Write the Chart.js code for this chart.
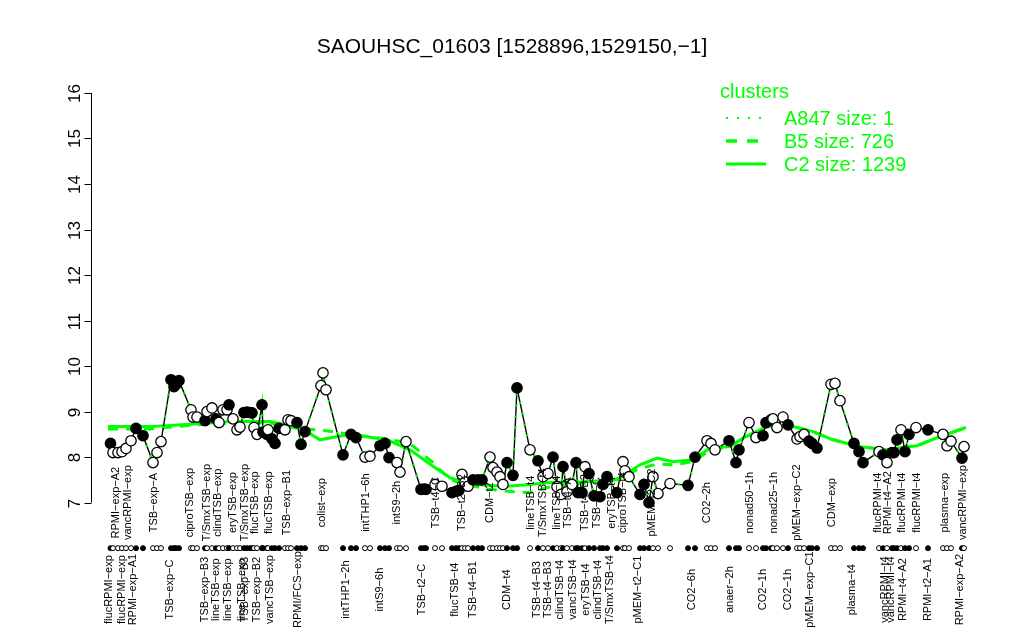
<!DOCTYPE html>
<html>
<head>
<meta charset="utf-8">
<script src="https://cdn.jsdelivr.net/npm/chart.js"></script>
<style>
  body { margin: 0; background: #fff; }
  #chart { display: block; }
</style>
</head>
<body>
<canvas id="chart" width="1024" height="640"></canvas>
<script>
// posiciones de las muestras (eje x) y expresion
const xPos = [2.1,2.6,3.6,4.4,5.2,6.2,7.2,8.6,10.6,11.4,
  12.2,14.2,14.8,15.2,15.8,18.2,18.6,19.4,21,21.4,
  22.4,23.2,23.8,24.6,25.4,25.8,26.6,27.4,28,28.8,
  29.4,30,30.4,30.8,31.4,32.4,32.6,33.4,33.6,34.4,
  35,35.8,37,37.6,38.2,39.4,40.2,41,44.2,44.6,
  45.2,48.6,50.2,51.2,53,54,56,57,57.8,59.4,
  60,61.2,64.2,64.8,65.2,67,68.4,70.4,71.2,71.8,
  72.4,73,73.6,74.6,75.6,76.4,78,78.6,79.4,80,
  80.6,81.4,82.6,83.4,86,87.6,88.6,89.6,90.6,91.4,
  92.2,92.6,93.4,94.4,95.2,95.6,96.4,97,97.8,98.8,
  100,100.6,101.4,103.4,104.6,105,105.8,108,108.8,109.8,
  110.6,111.6,114,117.6,119,121.4,122.2,123,125.8,127.2,
  127.8,129.8,131.2,132.6,133.2,134.2,134.6,135.4,136.6,137.6,
  139.4,140,140.8,141.8,142.4,143.4,146.2,147,148,150.8,
  151.8,152.6,155.8,156.6,157.4,158.4,158.8,159.4,160.2,161,
  161.8,163.2,165.6,168.6,169.4,170.2,172.4,172.8];

const expr = [8.30,8.10,8.10,8.12,8.19,8.36,8.63,8.47,7.88,8.10,
  8.34,9.70,9.55,9.60,9.68,9.04,8.88,8.88,8.80,9.00,
  9.08,8.84,8.76,9.04,9.04,9.15,8.84,8.60,8.66,8.98,
  8.99,8.98,8.97,8.65,8.50,9.15,8.55,8.50,8.60,8.40,
  8.30,8.63,8.60,8.82,8.80,8.76,8.28,8.56,9.57,9.85,
  9.48,8.05,8.50,8.43,8.00,8.02,8.25,8.30,7.99,7.88,
  7.67,8.34,7.29,7.30,7.29,7.40,7.36,7.22,7.25,7.27,
  7.62,7.45,7.36,7.50,7.50,7.50,8.00,7.77,7.67,7.57,
  7.40,7.88,7.60,9.52,8.16,7.92,7.57,7.64,8.00,7.35,
  7.18,7.79,7.24,7.40,7.88,7.22,7.22,7.79,7.64,7.15,
  7.13,7.40,7.57,7.22,7.90,7.70,7.57,7.18,7.40,7.00,
  7.57,7.20,7.42,7.38,8.00,8.36,8.30,8.16,8.36,7.88,
  8.16,8.76,8.43,8.47,8.76,8.82,8.84,8.65,8.88,8.71,
  8.40,8.45,8.50,8.35,8.30,8.20,9.60,9.62,9.24,8.30,
  8.12,7.88,8.12,8.05,7.88,8.10,8.10,8.38,8.60,8.12,
  8.50,8.65,8.60,8.50,8.25,8.35,7.98,8.23];

// 1 = punto relleno, 0 = punto abierto
const filled = [1,0,0,0,0,0,1,1,0,0,
  0,1,1,1,1,0,0,0,1,0,
  0,1,0,0,0,1,0,0,0,1,
  1,1,1,0,0,1,1,1,0,1,
  1,1,0,0,0,1,1,1,0,0,
  0,1,1,1,0,0,1,1,1,0,
  0,0,1,1,1,0,0,1,1,1,
  0,0,0,1,1,1,0,0,0,0,
  0,1,1,1,0,1,0,0,1,0,
  0,1,0,0,1,1,1,0,1,1,
  1,1,1,1,0,0,0,1,1,1,
  0,0,0,1,1,0,0,0,1,1,
  1,0,0,1,1,1,0,0,0,1,
  0,0,0,1,1,1,0,0,0,1,
  1,1,0,1,0,1,1,1,0,1,
  1,0,1,0,0,0,1,0];

// medias de los clusters
const clusterX = [1.6,10,18,26,34,40,44,50,57.4,62,66.6,70,73.4,77.4,81.4,86,90,96.6,103.4,108,
  111.4,114.6,118.6,122,126,128.6,133.4,138.6,142.6,146.6,152,157.4,161.4,163.4,168,173.2];
const c2Vals = [8.67,8.67,8.72,8.78,8.78,8.65,8.38,8.5,8.38,8.16,7.8,7.55,7.42,7.38,7.36,7.4,7.44,7.46,7.5,7.83,
  7.98,7.9,7.94,8.2,8.23,8.42,8.67,8.67,8.56,8.38,8.23,8.16,8.23,8.25,8.45,8.65];
const b5Vals = [8.62,8.62,8.7,8.75,8.75,8.62,8.6,8.5,8.4,8.3,7.88,7.5,7.4,7.3,7.25,7.22,7.35,7.42,7.52,7.75,
  7.85,7.83,7.9,8.15,8.23,8.42,8.67,8.67,8.56,8.38,8.23,8.16,8.23,8.25,8.45,8.65];

// etiquetas dentro del grafico
const innerLabelX = [3.2,5.6,10.8,18,21.4,23.6,26.6,29,31,33.8,37.4,44.4,53.2,59.4,67.2,72.4,78,
  86.2,88.6,91.4,93.6,97,99.4,102.4,104.6,110.4,121.4,130,134.8,139.4,146.4,155.6,157.6,160.4,163.4,169,172.6];
const innerLabels = ['RPMI-exp-A2','vancRPMI-exp','TSB-exp-A','ciproTSB-exp','T/SmxTSB-exp','clindTSB-exp',
  'eryTSB-exp','T/SmxTSB-exp','flucTSB-exp','flucTSB-exp','TSB-exp-B1','colist-exp','intTHP1-6h','intS9-2h',
  'TSB-t4-C','TSB-t2-B2','CDM-t2','lineTSB-t4','T/SmxTSB-t4','lineTSB-t4','TSB-t4-A','TSB-t4-B2','TSB-t4-C',
  'eryTSB-t4','ciproTSB-t4','pMEM-t2-C2','CO2-2h','nonad50-1h','nonad25-1h','pMEM-exp-C2','CDM-exp',
  'flucRPMI-t4','RPMI-t4-A2','flucRPMI-t4','flucRPMI-t4','plasma-exp','vancRPMI-exp'];

// etiquetas del eje inferior
const axisLabelX = [1.8,4.4,6.6,14,21,23.2,25.6,28.4,29,31.4,34,39.6,49.2,56,64.4,71,74.6,81.4,
  87.4,89.6,92,94.6,97.2,99.6,102,107.6,118.4,126,132.6,137.6,142,150.4,157,158.2,160.6,165.6,172];
const axisLabels = ['flucRPMI-exp','flucRPMI-exp','RPMI-exp-A1','TSB-exp-C','TSB-exp-B3','lineTSB-exp',
  'lineTSB-exp','lineTSB-exp','TSB-exp-B3','TSB-exp-B2','vancTSB-exp','RPMI/FCS-exp','intTHP1-2h','intS9-6h',
  'TSB-t2-C','flucTSB-t4','TSB-t4-B1','CDM-t4','TSB-t4-B3','TSB-t4-B3','clindTSB-t4','vancTSB-t4','eryTSB-t4',
  'clindTSB-t4','T/SmxTSB-t4','pMEM-t2-C1','CO2-6h','anaer-2h','CO2-1h','CO2-1h','pMEM-exp-C1','plasma-t4',
  'vancRPMI-t4','vancRPMI-t4','RPMI-t4-A2','RPMI-t2-A1','RPMI-exp-A2'];

const yTicks = [7, 8, 9, 10, 11, 12, 13, 14, 15, 16];
const legendItems = ['A847 size: 1', 'B5 size: 726', 'C2 size: 1239'];
const titleText = 'SAOUHSC_01603 [1528896,1529150,-1]';

const GREEN = '#00ff00';
const FONT = '"Liberation Sans", Arial, sans-serif';
const rowValue = 6.0;       // fila de puntos bajo el grafico
const innerLabelValue = 7.0; // centro de las etiquetas internas
const axisLabelValue = 5.09; // centro de las etiquetas del eje

const minus = s => s.replace(/-/g, '\u2212');

const pts = xPos.map((x, i) => ({ x: x, y: expr[i] }));
const rowPts = xPos.map(x => ({ x: x, y: rowValue }));
const fills = filled.map(f => f ? '#000' : '#fff');

const overlay = {
    id: 'overlay',
    afterDraw(chart) {
        const ctx = chart.ctx;
        const xs = chart.scales.x, ys = chart.scales.y;
        const left = chart.chartArea.left;
        ctx.save();

        // eje y estilo R
        ctx.strokeStyle = '#000';
        ctx.lineWidth = 1;
        ctx.beginPath();
        ctx.moveTo(left - 0.5, ys.getPixelForValue(yTicks[0]));
        ctx.lineTo(left - 0.5, ys.getPixelForValue(yTicks[yTicks.length - 1]));
        ctx.stroke();
        ctx.fillStyle = '#000';
        ctx.font = '17px ' + FONT;
        ctx.textAlign = 'center';
        ctx.textBaseline = 'middle';
        yTicks.forEach(t => {
            const py = Math.round(ys.getPixelForValue(t)) + 0.5;
            ctx.beginPath();
            ctx.moveTo(left - 0.5, py);
            ctx.lineTo(left - 7.5, py);
            ctx.stroke();
            ctx.save();
            ctx.translate(left - 17, py);
            ctx.rotate(-Math.PI / 2);
            ctx.fillText(String(t), 0, 0);
            ctx.restore();
        });

        // etiquetas verticales
        ctx.font = '11px ' + FONT;
        const vText = (txt, x, y) => {
            ctx.save();
            ctx.translate(x, y);
            ctx.rotate(-Math.PI / 2);
            ctx.fillText(minus(txt), 0, 0);
            ctx.restore();
        };
        innerLabels.forEach((t, i) => vText(t, xs.getPixelForValue(innerLabelX[i]), ys.getPixelForValue(innerLabelValue)));
        axisLabels.forEach((t, i) => vText(t, xs.getPixelForValue(axisLabelX[i]), ys.getPixelForValue(axisLabelValue)));

        // titulo
        ctx.font = '21px ' + FONT;
        ctx.fillText(minus(titleText), 512, 47);

        // leyenda
        ctx.fillStyle = GREEN;
        ctx.strokeStyle = GREEN;
        ctx.textAlign = 'left';
        ctx.font = '20px ' + FONT;
        ctx.fillText('clusters', 720, 92);
        const dashes = [[2, 9], [11, 10], []];
        const widths = [2, 3.5, 3];
        legendItems.forEach((t, i) => {
            const py = 118 + i * 23;
            ctx.setLineDash(dashes[i]);
            ctx.lineWidth = widths[i];
            ctx.beginPath();
            ctx.moveTo(726, py);
            ctx.lineTo(766, py);
            ctx.stroke();
            ctx.setLineDash([]);
            ctx.fillText(t, 784, py + 1);
        });
        ctx.restore();
    }
};

new Chart(document.getElementById('chart'), {
    type: 'line',
    data: {
        datasets: [
            {
                data: clusterX.map((x, i) => ({ x: x, y: c2Vals[i] })),
                borderColor: GREEN, borderWidth: 3, pointRadius: 0, order: 6
            },
            {
                data: clusterX.map((x, i) => ({ x: x, y: b5Vals[i] })),
                borderColor: GREEN, borderWidth: 3, borderDash: [10, 8], pointRadius: 0, order: 5
            },
            {
                data: pts, borderColor: '#000', borderWidth: 1.4, pointRadius: 0, order: 4
            },
            {
                data: pts, borderColor: GREEN, borderWidth: 2.5, borderDash: [2, 9], pointRadius: 0, order: 3
            },
            {
                data: pts, showLine: false, pointRadius: 5.2, pointBorderWidth: 1.3,
                pointBorderColor: '#000', pointBackgroundColor: fills, order: 2
            },
            {
                data: rowPts, showLine: false, pointRadius: 2.5, pointBorderWidth: 1,
                pointBorderColor: '#000', pointBackgroundColor: fills, order: 1
            }
        ]
    },
    options: {
        responsive: false,
        animation: false,
        layout: { padding: { left: 92, right: 39, top: 77, bottom: 85 } },
        scales: {
            x: { type: 'linear', min: -1.6, max: 177, display: false },
            y: { min: 5.85, max: 16.35, display: false }
        },
        plugins: { legend: { display: false }, tooltip: { enabled: false } }
    },
    plugins: [overlay]
});
</script>
</body>
</html>
